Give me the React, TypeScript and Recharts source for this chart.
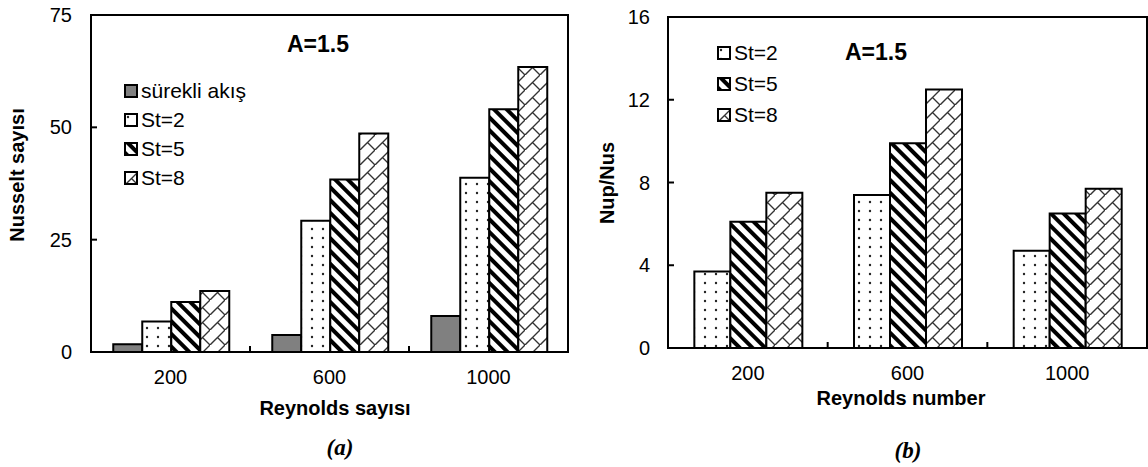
import {
  Bar,
  BarChart,
  Customized,
  Legend,
  ReferenceArea,
  XAxis,
  YAxis,
} from "recharts";

const reynolds = ["200", "600", "1000"];

// (a) Nusselt sayisi
const steadyNu = [1.7, 3.8, 8.0];
const st2Nu = [6.8, 29.2, 38.8];
const st5Nu = [11.1, 38.4, 54.0];
const st8Nu = [13.6, 48.6, 63.4];
const nuTicks = [0, 25, 50, 75];

// (b) Nup/Nus
const st2Ratio = [3.7, 7.4, 4.7];
const st5Ratio = [6.1, 9.9, 6.5];
const st8Ratio = [7.5, 12.5, 7.7];
const ratioTicks = [0, 4, 8, 12, 16];

const seriesOrder = ["steady", "st2", "st5", "st8"];

const dataA = reynolds.map((re, i) => ({
  re,
  steady: steadyNu[i],
  st2: st2Nu[i],
  st5: st5Nu[i],
  st8: st8Nu[i],
}));

const dataB = reynolds.map((re, i) => ({
  re,
  st2: st2Ratio[i],
  st5: st5Ratio[i],
  st8: st8Ratio[i],
}));

const SANS = "'Liberation Sans', Arial, sans-serif";
const SERIF = "'Liberation Serif', 'Times New Roman', serif";

// chart frames
const A = { w: 580, h: 467, m: { top: 15, right: 12, bottom: 114, left: 31 } };
const B = { w: 568, h: 467, m: { top: 17, right: 1, bottom: 118, left: 28 } };
const Y_W = 60;
const plotWidth = (c: typeof A) => c.w - c.m.left - c.m.right - Y_W;

const patternDefs = (s: string) => (
  <defs>
    <pattern id={`dots-${s}`} width="11" height="9" patternUnits="userSpaceOnUse">
      <rect width="11" height="9" fill="#fff" />
      <circle cx="4" cy="4" r="1.2" fill="#222" />
    </pattern>
    <pattern
      id={`stripes-${s}`}
      width="9"
      height="9"
      patternUnits="userSpaceOnUse"
      patternTransform="rotate(-45)"
    >
      <rect width="9" height="9" fill="#fff" />
      <rect width="4" height="9" fill="#000" />
    </pattern>
    <pattern id={`brick-${s}`} width="15" height="15" patternUnits="userSpaceOnUse">
      <rect width="15" height="15" fill="#fff" />
      <path
        d="M-1 16 L16 -1 M7.5 7.5 L15 15"
        stroke="#333"
        strokeWidth="1.4"
        fill="none"
      />
    </pattern>
  </defs>
);

const fillsFor = (s: string): Record<string, string> => ({
  steady: "#808080",
  st2: `url(#dots-${s})`,
  st5: `url(#stripes-${s})`,
  st8: `url(#brick-${s})`,
});

const makeLegend = (s: string, rowH: number) => (props: any) => {
  const fills = fillsFor(s);
  const items = [...(props.payload || [])].sort(
    (p: any, q: any) => seriesOrder.indexOf(p.dataKey) - seriesOrder.indexOf(q.dataKey)
  );
  return (
    <div style={{ fontFamily: SANS, fontSize: 21, color: "#000" }}>
      {items.map((entry: any) => (
        <div
          key={entry.value}
          style={{ display: "flex", alignItems: "center", height: rowH }}
        >
          <svg width={14} height={14} style={{ display: "block" }}>
            <rect
              x={1}
              y={1}
              width={12}
              height={12}
              fill={fills[entry.dataKey]}
              stroke="#000"
              strokeWidth={2}
            />
          </svg>
          <span style={{ marginLeft: 3, whiteSpace: "nowrap" }}>{entry.value}</span>
        </div>
      ))}
    </div>
  );
};

// category label plus a short inward tick at the right edge of the band
const TICK_SIZE = 6;
const TICK_MARGIN = 12;
const CategoryTick = (props: any) => {
  const { x, y, payload, halfBand } = props;
  const axisY = y - TICK_SIZE - TICK_MARGIN;
  const edgeX = x + halfBand;
  const isLast = String(payload.value) === reynolds[reynolds.length - 1];
  return (
    <g>
      <text
        x={x}
        y={y}
        dy="0.71em"
        textAnchor="middle"
        fill="#000"
        fontSize={20}
        fontFamily={SANS}
      >
        {payload.value}
      </text>
      {!isLast && (
        <line x1={edgeX} x2={edgeX} y1={axisY} y2={axisY - 6} stroke="#000" strokeWidth={2} />
      )}
    </g>
  );
};

const NotesA = () => (
  <g fontFamily={SANS} fill="#000">
    <text
      transform="translate(17,175) rotate(-90)"
      textAnchor="middle"
      dy="0.35em"
      fontSize={20}
      fontWeight="bold"
    >
      Nusselt sayısı
    </text>
    <text x={335} y={408} dy="0.35em" textAnchor="middle" fontSize={20} fontWeight="bold">
      Reynolds sayısı
    </text>
    <text x={287} y={44} dy="0.35em" fontSize={23} fontWeight="bold">
      A=1.5
    </text>
    <text
      x={340}
      y={447}
      dy="0.35em"
      textAnchor="middle"
      fontSize={23}
      fontWeight="bold"
      fontStyle="italic"
      fontFamily={SERIF}
    >
      (a)
    </text>
  </g>
);

const NotesB = () => (
  <g fontFamily={SANS} fill="#000">
    <text
      transform="translate(27,183) rotate(-90)"
      textAnchor="middle"
      dy="0.35em"
      fontSize={20}
      fontWeight="bold"
    >
      Nup/Nus
    </text>
    <text x={321} y={398} dy="0.35em" textAnchor="middle" fontSize={20} fontWeight="bold">
      Reynolds number
    </text>
    <text x={265} y={52} dy="0.35em" fontSize={23} fontWeight="bold">
      A=1.5
    </text>
    <text
      x={328}
      y={450}
      dy="0.35em"
      textAnchor="middle"
      fontSize={23}
      fontWeight="bold"
      fontStyle="italic"
      fontFamily={SERIF}
    >
      (b)
    </text>
  </g>
);

const tickStyle = { fill: "#000", fontSize: 20, fontFamily: SANS };

export default function App() {
  const fa = fillsFor("a");
  const fb = fillsFor("b");
  const halfA = plotWidth(A) / (2 * reynolds.length);
  const halfB = plotWidth(B) / (2 * reynolds.length);

  return (
    <div
      style={{
        position: "absolute",
        left: 0,
        top: 0,
        width: 1148,
        height: 467,
        background: "#fff",
        fontFamily: SANS,
      }}
    >
      <div style={{ position: "absolute", left: 0, top: 0 }}>
        <BarChart
          width={A.w}
          height={A.h}
          data={dataA}
          margin={A.m}
          barGap={0}
          barCategoryGap="14%"
        >
          {patternDefs("a")}
          <XAxis
            dataKey="re"
            height={1}
            tickLine={false}
            tickSize={TICK_SIZE}
            tickMargin={TICK_MARGIN}
            tick={(p: any) => <CategoryTick {...p} halfBand={halfA} />}
            axisLine={{ stroke: "#000", strokeWidth: 2 }}
          />
          <YAxis
            width={Y_W}
            domain={[0, 75]}
            ticks={nuTicks}
            tickSize={-6}
            tickMargin={25}
            tick={tickStyle}
            axisLine={{ stroke: "#000", strokeWidth: 2 }}
            tickLine={{ stroke: "#000", strokeWidth: 2 }}
          />
          <ReferenceArea
            x1="200"
            x2="1000"
            y1={0}
            y2={75}
            fill="none"
            stroke="#000"
            strokeWidth={2}
            fillOpacity={0}
          />
          <Legend
            layout="vertical"
            align="center"
            verticalAlign="middle"
            wrapperStyle={{ left: 124, top: 76.5, width: 160 }}
            content={makeLegend("a", 29)}
          />
          <Bar dataKey="steady" name="sürekli akış" fill={fa.steady} stroke="#000" strokeWidth={2} isAnimationActive={false} />
          <Bar dataKey="st2" name="St=2" fill={fa.st2} stroke="#000" strokeWidth={2} isAnimationActive={false} />
          <Bar dataKey="st5" name="St=5" fill={fa.st5} stroke="#000" strokeWidth={2} isAnimationActive={false} />
          <Bar dataKey="st8" name="St=8" fill={fa.st8} stroke="#000" strokeWidth={2} isAnimationActive={false} />
          <Customized component={NotesA} />
        </BarChart>
      </div>

      <div style={{ position: "absolute", left: 580, top: 0 }}>
        <BarChart
          width={B.w}
          height={B.h}
          data={dataB}
          margin={B.m}
          barGap={0}
          barCategoryGap="16.5%"
        >
          {patternDefs("b")}
          <XAxis
            dataKey="re"
            height={1}
            tickLine={false}
            tickSize={TICK_SIZE}
            tickMargin={TICK_MARGIN}
            tick={(p: any) => <CategoryTick {...p} halfBand={halfB} />}
            axisLine={{ stroke: "#000", strokeWidth: 2 }}
          />
          <YAxis
            width={Y_W}
            domain={[0, 16]}
            ticks={ratioTicks}
            tickSize={-6}
            tickMargin={24}
            tick={tickStyle}
            axisLine={{ stroke: "#000", strokeWidth: 2 }}
            tickLine={{ stroke: "#000", strokeWidth: 2 }}
          />
          <ReferenceArea
            x1="200"
            x2="1000"
            y1={0}
            y2={16}
            fill="none"
            stroke="#000"
            strokeWidth={2}
            fillOpacity={0}
          />
          <Legend
            layout="vertical"
            align="center"
            verticalAlign="middle"
            wrapperStyle={{ left: 137, top: 37.5, width: 120 }}
            content={makeLegend("b", 31)}
          />
          <Bar dataKey="st2" name="St=2" fill={fb.st2} stroke="#000" strokeWidth={2} isAnimationActive={false} />
          <Bar dataKey="st5" name="St=5" fill={fb.st5} stroke="#000" strokeWidth={2} isAnimationActive={false} />
          <Bar dataKey="st8" name="St=8" fill={fb.st8} stroke="#000" strokeWidth={2} isAnimationActive={false} />
          <Customized component={NotesB} />
        </BarChart>
      </div>
    </div>
  );
}
